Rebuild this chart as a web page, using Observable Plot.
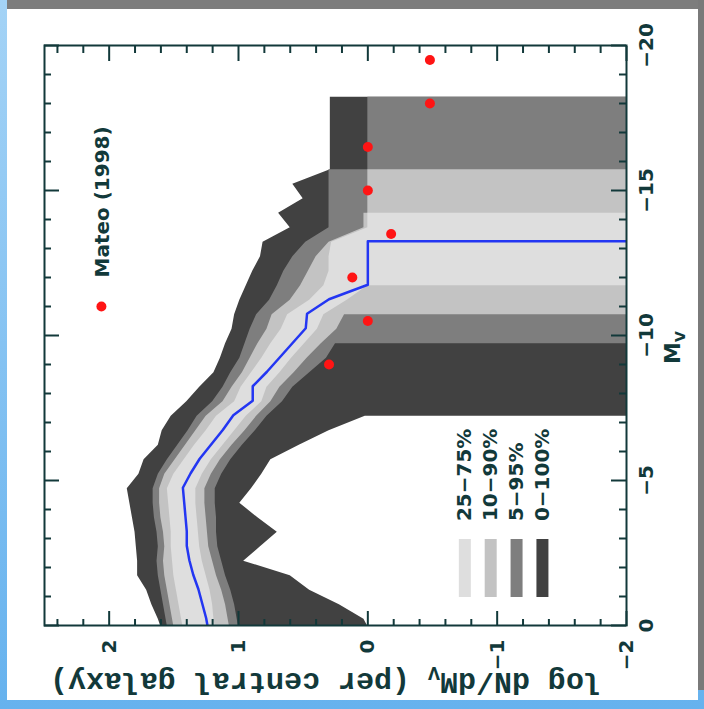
<!DOCTYPE html>
<html><head><meta charset="utf-8">
<script src="https://cdn.jsdelivr.net/npm/d3@7"></script>
<script src="https://cdn.jsdelivr.net/npm/@observablehq/plot@0.6"></script>
<style>
html,body{margin:0;padding:0;width:704px;height:709px;overflow:hidden;background:#fff}
#bg{position:absolute;left:0;top:0;width:704px;height:709px;background:linear-gradient(180deg,#a4d3f6,#66b2ee)}
#topbar{position:absolute;left:7px;top:0;width:697px;height:9px;background:#7d7d7d}
#rightbar{position:absolute;left:698px;top:0;width:6px;height:690px;background:#7a7a7a}
#panel{position:absolute;left:7px;top:9px;width:691px;height:691px;background:#fff}
#rot{position:absolute;left:0;top:0;width:709px;height:704px;transform-origin:0 0;transform:translate(0px,709px) rotate(-90deg)}
</style></head><body>
<div id="bg"></div><div id="topbar"></div><div id="rightbar"></div><div id="panel"></div>
<div id="rot"></div>
<script>
const NI = -Infinity; // zero counts: log = -infinity

// absolute magnitude grid (bin vertices, repeated where a band drops to zero counts)
const mv = [0, -0.25, -0.75, -1.25, -1.75, -2.25, -2.75, -3.25, -3.75, -4.25,
 -4.75, -5.25, -5.75, -6.25, -6.75, -7.25, -7.25, -7.75, -8.25, -8.75,
 -9.25, -9.75, -9.75, -10.25, -10.75, -10.75, -11.25, -11.75, -11.75, -12.25,
 -12.75, -13.25, -13.25, -13.75, -14.25, -14.25, -14.75, -15.25, -15.75, -15.75,
 -16.25, -16.75, -17.25, -17.75, -18.25];

// 0-100%
const u100 = [1.60, 1.62, 1.67, 1.71, 1.78, 1.78, 1.79, 1.80, 1.82, 1.84,
 1.86, 1.77, 1.73, 1.62, 1.59, 1.52, 1.52, 1.40, 1.30, 1.19,
 1.14, 1.10, 1.10, 1.05, 1.03, 1.03, 0.99, 0.94, 0.94, 0.89,
 0.83, 0.81, 0.81, 0.60, 0.69, 0.69, 0.50, 0.58, 0.29, 0.29,
 0.29, 0.29, 0.29, 0.29, 0.29];
const l100 = [0.00, 0.03, 0.22, 0.45, 0.60, 0.96, 0.83, 0.70, 0.85, 0.99,
 0.90, 0.82, 0.75, 0.53, 0.30, 0.02, NI, NI, NI, NI,
 NI, NI, NI, NI, NI, NI, NI, NI, NI, NI,
 NI, NI, NI, NI, NI, NI, NI, NI, NI, NI,
 NI, NI, NI, NI, NI];
// 5-95%
const u95 = [1.55, 1.56, 1.58, 1.60, 1.62, 1.63, 1.62, 1.63, 1.65, 1.66,
 1.66, 1.62, 1.55, 1.47, 1.39, 1.32, 1.32, 1.20, 1.12, 1.06,
 0.99, 0.95, 0.95, 0.91, 0.86, 0.86, 0.76, 0.70, 0.70, 0.65,
 0.58, 0.48, 0.48, 0.30, 0.30, 0.30, 0.30, 0.30, 0.30, 0.00,
 0.00, 0.00, 0.00, 0.00, 0.00];
const l95 = [1.00, 1.01, 1.03, 1.06, 1.10, 1.13, 1.16, 1.17, 1.17, 1.18,
 1.18, 1.13, 1.06, 0.97, 0.87, 0.78, 0.78, 0.66, 0.58, 0.45,
 0.32, 0.25, NI, NI, NI, NI, NI, NI, NI, NI,
 NI, NI, NI, NI, NI, NI, NI, NI, NI, NI,
 NI, NI, NI, NI, NI];
// 10-90%
const u90 = [1.50, 1.51, 1.53, 1.55, 1.57, 1.58, 1.57, 1.58, 1.60, 1.61,
 1.61, 1.57, 1.49, 1.41, 1.33, 1.25, 1.25, 1.12, 1.05, 0.97,
 0.91, 0.85, 0.85, 0.78, 0.74, 0.74, 0.60, 0.52, 0.52, 0.46,
 0.40, 0.30, 0.30, 0.03, 0.03, 0.00, 0.00, 0.00, 0.00, null,
 null, null, null, null, null];
const l90 = [1.07, 1.08, 1.10, 1.13, 1.17, 1.20, 1.23, 1.24, 1.25, 1.26,
 1.26, 1.21, 1.14, 1.05, 0.95, 0.86, 0.86, 0.75, 0.68, 0.57,
 0.47, 0.36, 0.36, 0.24, 0.18, NI, NI, NI, NI, NI,
 NI, NI, NI, NI, NI, NI, NI, NI, NI, null,
 null, null, null, null, null];
// 25-75%
const u75 = [1.43, 1.44, 1.46, 1.48, 1.50, 1.51, 1.52, 1.52, 1.53, 1.54,
 1.55, 1.50, 1.42, 1.34, 1.25, 1.17, 1.17, 1.03, 0.98, 0.90,
 0.82, 0.75, 0.75, 0.67, 0.62, 0.62, 0.45, 0.34, 0.34, 0.30,
 0.30, 0.28, 0.28, 0.00, 0.00, null, null, null, null, null,
 null, null, null, null, null];
const l75 = [1.18, 1.19, 1.20, 1.22, 1.25, 1.28, 1.30, 1.31, 1.32, 1.33,
 1.33, 1.28, 1.21, 1.12, 1.03, 0.94, 0.94, 0.82, 0.78, 0.68,
 0.59, 0.49, 0.49, 0.39, 0.34, 0.34, 0.16, 0.00, NI, NI,
 NI, NI, NI, NI, NI, null, null, null, null, null,
 null, null, null, null, null];
// median
const med = [1.24, 1.25, 1.28, 1.31, 1.35, 1.38, 1.40, 1.40, 1.41, 1.42,
 1.43, 1.37, 1.30, 1.21, 1.12, 1.04, 1.04, 0.89, 0.89, 0.78,
 0.68, 0.58, 0.58, 0.48, 0.47, 0.47, 0.30, 0.00, 0.00, 0.00,
 0.00, 0.00, NI, null, null, null, null, null, null, null,
 null, null, null, null, null];

// Mateo (1998)
const mateoMV  = [-9, -10.5, -12, -13.5, -15, -16.5, -18, -19.5];
const mateoLog = [0.30, 0.00, 0.12, -0.18, 0.00, 0.00, -0.48, -0.48];

const mvTicks  = [0, -5, -10, -15, -20];
const logTicks = [2, 1, 0, -1, -2];
const legendLabels = ["25\u221275%", "10\u221290%", "5\u221295%", "0\u2212100%"];
const legendColors = ["#dedede", "#c3c3c3", "#7e7e7e", "#414141"];

// ---- layout / style ----
const W = 709, H = 704, mL = 83, mR = 46, mT = 44, mB = 78;
const xDom = [0, -20], yDom = [-2, 2.5];
const xPerPx = (xDom[0] - xDom[1]) / (W - mL - mR);
const yPerPx = (yDom[1] - yDom[0]) / (H - mT - mB);
const ink = "#12393a";
const FLOOR = -2.6;
const fix = v => v === null ? null : (v === -Infinity ? FLOOR : v);
const fmt = d => d < 0 ? "\u2212" + (-d) : String(d);

const rows = mv.map((m, i) => ({
  mv: m,
  u100: fix(u100[i]), l100: fix(l100[i]),
  u95: fix(u95[i]), l95: fix(l95[i]),
  u90: fix(u90[i]), l90: fix(l90[i]),
  u75: fix(u75[i]), l75: fix(l75[i]),
  med: fix(med[i])
}));
const mateo = mateoMV.map((m, i) => ({mv: m, log: mateoLog[i]}));

const legendY = [-0.75, -0.95, -1.15, -1.35];
const legendRows = legendLabels.map((t, i) => ({label: t, color: legendColors[i], y: legendY[i]}));

const mvMinor = d3.range(0, -21, -1);
const logMinor = d3.range(-10, 13).map(k => k / 5);
const mvLen = d => (d % 5 === 0 ? 15 : 7) * yPerPx;
const logLen = d => (Math.abs(d - Math.round(d)) < 1e-9 ? 15 : 7) * xPerPx;

const plot = Plot.plot({
  width: W, height: H, marginLeft: mL, marginRight: mR, marginTop: mT, marginBottom: mB,
  style: {background: "transparent", fontFamily: "DejaVu Sans, sans-serif", fontWeight: "bold", fontSize: "20px", color: ink, overflow: "visible"},
  x: {domain: xDom, ticks: mvTicks, tickSize: 0, tickPadding: 12, tickFormat: fmt, label: null},
  y: {domain: yDom, ticks: logTicks, tickSize: 0, tickPadding: 14, tickFormat: fmt, label: null},
  color: {type: "identity"},
  marks: [
    Plot.areaY(rows, {x: "mv", y1: "l100", y2: "u100", fill: legendColors[3], clip: true}),
    Plot.areaY(rows, {x: "mv", y1: "l95", y2: "u95", fill: legendColors[2], clip: true}),
    Plot.areaY(rows, {x: "mv", y1: "l90", y2: "u90", fill: legendColors[1], clip: true}),
    Plot.areaY(rows, {x: "mv", y1: "l75", y2: "u75", fill: legendColors[0], clip: true}),
    Plot.line(rows, {x: "mv", y: "med", stroke: "#2336f2", strokeWidth: 2.5, clip: true}),
    Plot.dot(mateo, {x: "mv", y: "log", r: 5, fill: "#ff1414", stroke: "none"}),
    // legend
    Plot.dot([0], {x: -11.0, y: 2.06, r: 5, fill: "#ff1414", stroke: "none"}),
    Plot.text([0], {x: -12.0, y: 2.05, text: () => "Mateo (1998)", textAnchor: "start", fontSize: 20, fill: ink}),
    Plot.ruleY(legendRows, {y: "y", x1: -1.0, x2: -3.0, stroke: "color", strokeWidth: 12}),
    Plot.text(legendRows, {x: -3.6, y: "y", text: "label", textAnchor: "start", fontSize: 20, fill: ink}),
    // inward ticks
    Plot.ruleX(mvMinor, {x: d => d, y1: yDom[0], y2: d => yDom[0] + mvLen(d), stroke: ink, strokeWidth: 2}),
    Plot.ruleX(mvMinor, {x: d => d, y1: yDom[1], y2: d => yDom[1] - mvLen(d), stroke: ink, strokeWidth: 2}),
    Plot.ruleY(logMinor, {y: d => d, x1: xDom[0], x2: d => xDom[0] - logLen(d), stroke: ink, strokeWidth: 2}),
    Plot.ruleY(logMinor, {y: d => d, x1: xDom[1], x2: d => xDom[1] + logLen(d), stroke: ink, strokeWidth: 2}),
    Plot.frame({stroke: ink, strokeWidth: 2})
  ]
});

const s = d3.select(plot);
// y-axis label
const yl = s.append("text")
  .attr("transform", `translate(36, 326) rotate(-90)`)
  .attr("text-anchor", "middle")
  .attr("fill", ink)
  .style("font-family", "Liberation Mono, monospace")
  .style("font-weight", "bold")
  .style("font-size", "30px");
yl.append("tspan").text("log dN/dM");
yl.append("tspan").text("V").attr("dy", "0.3em").style("font-size", "20px");
yl.append("tspan").text(" (per central galaxy)").attr("dy", "-0.2em");
// x-axis label
const xl = s.append("text")
  .attr("x", 361.5).attr("y", 680)
  .attr("fill", ink)
  .style("font-family", "DejaVu Sans, sans-serif")
  .style("font-weight", "bold")
  .style("font-size", "22px");
xl.append("tspan").text("M");
xl.append("tspan").text("V").attr("dy", "0.35em").style("font-size", "14px");

document.getElementById("rot").appendChild(plot);
</script></body></html>
